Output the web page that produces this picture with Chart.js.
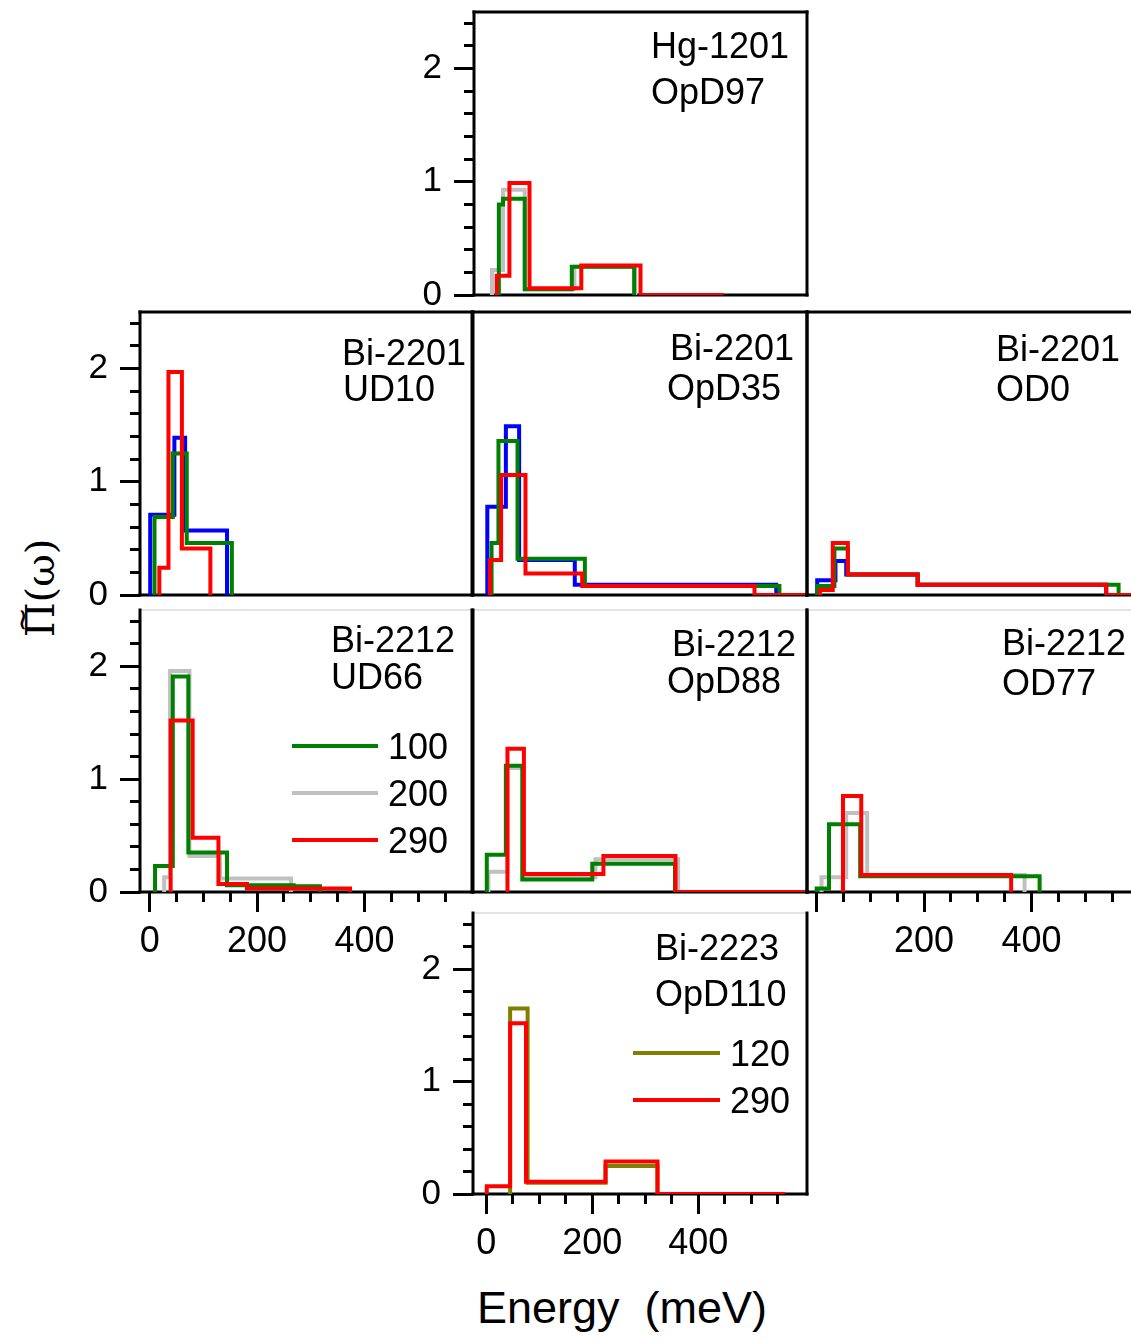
<!DOCTYPE html>
<html lang="en">
<head>
<meta charset="UTF-8">
<title>Pi(omega) vs energy</title>
<script src="https://cdn.jsdelivr.net/npm/chart.js"></script>
<style>
html, body { margin: 0; padding: 0; background: #fff; overflow: hidden; }
#page { position: relative; width: 1131px; height: 1339px; overflow: hidden; }
.panel { position: absolute; }
#ytitle {
    position: absolute; left: 40px; top: 588px;
    transform: translate(-50%, -50%) rotate(-90deg);
    font: 40px 'DejaVu Serif', serif; white-space: nowrap;
}
#ytitle .pi { position: relative; display: inline-block; }
#ytitle .tl {
    position: absolute; left: 50%; top: -0.42em;
    transform: translateX(-50%);
    font: 30px 'DejaVu Sans', sans-serif;
}
#xtitle {
    position: absolute; left: 622px; top: 1282px;
    transform: translateX(-50%);
    font: 45px 'Liberation Sans', Arial, sans-serif; white-space: pre;
}
</style>
</head>
<body>
<div id="page">
    <div id="ytitle"><span class="pi">&#928;<span class="tl">~</span></span>(&#969;)</div>
    <div id="xtitle">Energy  (meV)</div>
</div>
<script>
// tick values / labels
const yTicks = [0, 0.2, 0.4, 0.6, 0.8, 1, 1.2, 1.4, 1.6, 1.8, 2, 2.2, 2.4];
const yLabels = [0, 1, 2];
const xTicks = [0, 50, 100, 150, 200, 250, 300, 350, 400, 450, 500, 550];
const xLabels = [0, 200, 400];
const xLabelsOD77 = [200, 400];

// histogram bin edges (meV) and heights, one pair per temperature
// Hg-1201 OpD97
const hg100E = [22, 30, 71, 160, 278];
const hg100H = [0.80, 0.85, 0.05, 0.25];
const hg200E = [9, 30, 71, 165, 280];
const hg200H = [0.22, 0.93, 0.05, 0.25];
const hg290E = [18, 42, 80, 178, 290, 447];
const hg290H = [0.17, 0.99, 0.06, 0.26, 0];

// Bi-2201 UD10
const ud10bE = [1, 46, 66, 144];
const ud10bH = [0.71, 1.39, 0.57];
const ud10_100E = [9, 43, 69, 153];
const ud10_100H = [0.69, 1.25, 0.46];
const ud10_290E = [18, 35, 60, 113];
const ud10_290H = [0.24, 1.97, 0.41];

// Bi-2201 OpD35
const opd35bE = [2, 37, 62, 167, 547];
const opd35bH = [0.78, 1.49, 0.31, 0.09];
const opd35_100E = [10, 23, 59, 186, 553];
const opd35_100H = [0.46, 1.36, 0.32, 0.08];
const opd35_290E = [7, 28, 74, 181, 506, 605];
const opd35_290H = [0.31, 1.06, 0.19, 0.08, 0];

// Bi-2201 OD0
const od0bE = [1, 35, 55, 188, 539];
const od0bH = [0.13, 0.30, 0.18, 0.09];
const od0_100E = [1, 33, 58, 188, 562];
const od0_100H = [0.08, 0.41, 0.18, 0.09];
const od0_290E = [6, 30, 58, 188, 539, 600];
const od0_290H = [0.045, 0.46, 0.18, 0.09, 0];

// Bi-2212 UD66
const ud66_100E = [10, 43, 72, 144, 268, 317];
const ud66_100H = [0.23, 1.91, 0.35, 0.06, 0.05];
const ud66_200E = [27, 38, 74, 131, 263];
const ud66_200H = [0.13, 1.96, 0.32, 0.12];
const ud66_290E = [39, 80, 128, 181, 373];
const ud66_290H = [1.52, 0.48, 0.07, 0.03];

// Bi-2212 OpD88
const opd88_100E = [1, 37, 68, 200, 356];
const opd88_100H = [0.33, 1.12, 0.11, 0.25];
const opd88_200E = [4, 40, 69, 206, 362];
const opd88_200H = [0.18, 1.10, 0.13, 0.29];
const opd88_290E = [40, 71, 221, 357, 605];
const opd88_290H = [1.27, 0.16, 0.32, 0];

// Bi-2212 OD77
const od77_100E = [0, 23, 81, 415];
const od77_100H = [0.03, 0.60, 0.14];
const od77_200E = [9, 55, 94, 387];
const od77_200H = [0.13, 0.70, 0.15];
const od77_290E = [49, 83, 362];
const od77_290H = [0.85, 0.15];

// Bi-2223 OpD110
const opd110_120E = [45, 78, 225, 323];
const opd110_120H = [1.65, 0.10, 0.25];
const opd110_290E = [1, 45, 75, 225, 323, 564];
const opd110_290H = [0.07, 1.52, 0.11, 0.29, 0];

const colors = { b: '#0000ff', t100: '#008000', t120: '#808000', t200: '#c0c0c0', t290: '#ff0000' };
const FONT = '"Liberation Sans", Arial, sans-serif';
const PL = 90, PT = 10, PR = 10, PB = 80;

function histPoints(edges, heights) {
    const pts = [{ x: edges[0], y: 0 }];
    for (let i = 0; i < heights.length; i++) {
        pts.push({ x: edges[i], y: heights[i] });
    }
    pts.push({ x: edges[edges.length - 1], y: 0 });
    return pts;
}

function isMajor(v, step) {
    return Math.abs(v / step - Math.round(v / step)) < 1e-6;
}

const framePlugin = {
    id: 'frame',
    beforeDatasetsDraw(chart, args, opts) {
        const a = chart.chartArea, ctx = chart.ctx;
        function seg(x1, y1, x2, y2) {
            ctx.beginPath(); ctx.moveTo(x1, y1); ctx.lineTo(x2, y2); ctx.stroke();
        }
        ctx.save();
        ctx.lineCap = 'square';
        ctx.strokeStyle = opts.thinTop ? '#c8c8c8' : '#000';
        ctx.lineWidth = opts.thinTop ? 1 : 3;
        seg(a.left, a.top, a.right, a.top);
        ctx.strokeStyle = '#000';
        ctx.lineWidth = 3;
        seg(a.left, a.top, a.left, a.bottom);
        seg(a.right, a.top, a.right, a.bottom);
        seg(a.left, a.bottom, a.right, a.bottom);
        ctx.restore();
    }
};

const notesPlugin = {
    id: 'notes',
    afterDatasetsDraw(chart, args, opts) {
        const a = chart.chartArea, ctx = chart.ctx;
        ctx.save();
        ctx.fillStyle = '#000';
        ctx.font = '36px ' + FONT;
        ctx.textBaseline = 'alphabetic';
        (opts.lines || []).forEach(function (l) {
            ctx.fillText(l.text, a.left + l.x, a.top + l.y);
        });
        (opts.legend || []).forEach(function (item) {
            const ds = chart.data.datasets[item.ds];
            ctx.strokeStyle = ds.borderColor;
            ctx.lineWidth = 4;
            ctx.beginPath();
            ctx.moveTo(a.left + item.x0, a.top + item.y);
            ctx.lineTo(a.left + item.x1, a.top + item.y);
            ctx.stroke();
            ctx.fillText(ds.label, a.left + item.x1 + 10, a.top + item.y + 13);
        });
        ctx.restore();
    }
};

function makePanel(p) {
    const w = p.box[2] - p.box[0], h = p.box[3] - p.box[1];
    const cv = document.createElement('canvas');
    cv.className = 'panel';
    cv.width = w + PL + PR;
    cv.height = h + PT + PB;
    cv.style.left = (p.box[0] - PL) + 'px';
    cv.style.top = (p.box[1] - PT) + 'px';
    document.getElementById('page').appendChild(cv);

    new Chart(cv, {
        type: 'line',
        data: {
            datasets: p.series.map(function (s) {
                return {
                    label: s.label,
                    data: histPoints(s.e, s.h),
                    borderColor: s.color,
                    borderWidth: 4,
                    stepped: true,
                    pointRadius: 0,
                    fill: false
                };
            })
        },
        options: {
            responsive: false,
            animation: false,
            devicePixelRatio: 1,
            layout: { padding: { top: PT, right: PR, left: 0, bottom: 0 } },
            plugins: {
                legend: { display: false },
                tooltip: { enabled: false },
                frame: { thinTop: !!p.thinTop },
                notes: { lines: p.notes, legend: p.legend }
            },
            scales: {
                x: {
                    type: 'linear', min: p.xMin, max: p.xMax, bounds: 'data',
                    afterBuildTicks: function (s) {
                        s.ticks = p.xLab ? xTicks.map(function (v) { return { value: v }; }) : [];
                    },
                    afterFit: function (s) {
                        s.height = PB;
                        s.paddingLeft = 0; s.paddingRight = 0;
                    },
                    border: { display: false },
                    grid: {
                        display: !!p.xLab, drawOnChartArea: false,
                        tickLength: 20, tickWidth: 3, tickColor: '#000',
                        tickBorderDash: [20, 10],
                        tickBorderDashOffset: function (c) {
                            return c.tick && isMajor(c.tick.value, 200) ? 0 : 10;
                        }
                    },
                    ticks: {
                        display: !!p.xLab, autoSkip: false, maxRotation: 0, minRotation: 0,
                        padding: 8, color: '#000', font: { family: FONT, size: 36 },
                        callback: function (v) { return p.xLab && p.xLab.indexOf(v) >= 0 ? String(v) : ''; }
                    }
                },
                y: {
                    type: 'linear', min: 0, max: 2.5, bounds: 'data',
                    afterBuildTicks: function (s) {
                        s.ticks = p.yLab ? yTicks.map(function (v) { return { value: v }; }) : [];
                    },
                    afterFit: function (s) {
                        s.width = PL;
                        s.paddingTop = 0; s.paddingBottom = 0;
                    },
                    border: { display: false },
                    grid: {
                        display: !!p.yLab, drawOnChartArea: false,
                        tickLength: 20, tickWidth: 3, tickColor: '#000',
                        tickBorderDash: [20, 10],
                        tickBorderDashOffset: function (c) {
                            return c.tick && isMajor(c.tick.value, 1) ? 0 : 20;
                        }
                    },
                    ticks: {
                        display: !!p.yLab, autoSkip: false,
                        padding: 12, color: '#000', font: { family: FONT, size: 35 },
                        callback: function (v) {
                            return yLabels.some(function (l) { return Math.abs(l - v) < 1e-6; }) ? String(Math.round(v)) : '';
                        }
                    }
                }
            }
        },
        plugins: [framePlugin, notesPlugin]
    });
}

const midX = [-25, 605], leftX = [-18, 600], rightX = [-18, 600];

makePanel({
    box: [474, 12, 807, 295], xMin: midX[0], xMax: midX[1], yLab: true,
    series: [
        { label: '290', e: hg290E, h: hg290H, color: colors.t290 },
        { label: '100', e: hg100E, h: hg100H, color: colors.t100 },
        { label: '200', e: hg200E, h: hg200H, color: colors.t200 }
    ],
    notes: [{ text: 'Hg-1201', x: 177, y: 46 }, { text: 'OpD97', x: 177, y: 92 }]
});

makePanel({
    box: [140, 312, 472, 595], xMin: leftX[0], xMax: leftX[1], yLab: true,
    series: [
        { label: '290', e: ud10_290E, h: ud10_290H, color: colors.t290 },
        { label: '100', e: ud10_100E, h: ud10_100H, color: colors.t100 },
        { label: '', e: ud10bE, h: ud10bH, color: colors.b }
    ],
    notes: [{ text: 'Bi-2201', x: 202, y: 53 }, { text: 'UD10', x: 203, y: 89 }]
});

makePanel({
    box: [473, 312, 807, 595], xMin: midX[0], xMax: midX[1],
    series: [
        { label: '290', e: opd35_290E, h: opd35_290H, color: colors.t290 },
        { label: '100', e: opd35_100E, h: opd35_100H, color: colors.t100 },
        { label: '', e: opd35bE, h: opd35bH, color: colors.b }
    ],
    notes: [{ text: 'Bi-2201', x: 197, y: 48 }, { text: 'OpD35', x: 194, y: 88 }]
});

makePanel({
    box: [807, 312, 1139, 595], xMin: rightX[0], xMax: rightX[1],
    series: [
        { label: '290', e: od0_290E, h: od0_290H, color: colors.t290 },
        { label: '100', e: od0_100E, h: od0_100H, color: colors.t100 },
        { label: '', e: od0bE, h: od0bH, color: colors.b }
    ],
    notes: [{ text: 'Bi-2201', x: 189, y: 49 }, { text: 'OD0', x: 189, y: 89 }]
});

makePanel({
    box: [140, 610, 472, 892], xMin: leftX[0], xMax: leftX[1], yLab: true, xLab: xLabels, thinTop: true,
    series: [
        { label: '290', e: ud66_290E, h: ud66_290H, color: colors.t290 },
        { label: '100', e: ud66_100E, h: ud66_100H, color: colors.t100 },
        { label: '200', e: ud66_200E, h: ud66_200H, color: colors.t200 }
    ],
    notes: [{ text: 'Bi-2212', x: 191, y: 42 }, { text: 'UD66', x: 191, y: 79 }],
    legend: [
        { ds: 1, x0: 152, x1: 238, y: 136 },
        { ds: 2, x0: 152, x1: 238, y: 183 },
        { ds: 0, x0: 152, x1: 238, y: 230 }
    ]
});

makePanel({
    box: [473, 610, 807, 892], xMin: midX[0], xMax: midX[1], thinTop: true,
    series: [
        { label: '290', e: opd88_290E, h: opd88_290H, color: colors.t290 },
        { label: '100', e: opd88_100E, h: opd88_100H, color: colors.t100 },
        { label: '200', e: opd88_200E, h: opd88_200H, color: colors.t200 }
    ],
    notes: [{ text: 'Bi-2212', x: 199, y: 46 }, { text: 'OpD88', x: 194, y: 83 }]
});

makePanel({
    box: [807, 610, 1139, 892], xMin: rightX[0], xMax: rightX[1], xLab: xLabelsOD77, thinTop: true,
    series: [
        { label: '290', e: od77_290E, h: od77_290H, color: colors.t290 },
        { label: '100', e: od77_100E, h: od77_100H, color: colors.t100 },
        { label: '200', e: od77_200E, h: od77_200H, color: colors.t200 }
    ],
    notes: [{ text: 'Bi-2212', x: 195, y: 45 }, { text: 'OD77', x: 195, y: 85 }]
});

makePanel({
    box: [473, 913, 807, 1194], xMin: midX[0], xMax: midX[1], yLab: true, xLab: xLabels, thinTop: true,
    series: [
        { label: '290', e: opd110_290E, h: opd110_290H, color: colors.t290 },
        { label: '120', e: opd110_120E, h: opd110_120H, color: colors.t120 }
    ],
    notes: [{ text: 'Bi-2223', x: 182, y: 47 }, { text: 'OpD110', x: 182, y: 93 }],
    legend: [
        { ds: 1, x0: 160, x1: 247, y: 140 },
        { ds: 0, x0: 160, x1: 247, y: 187 }
    ]
});
</script>
</body>
</html>
